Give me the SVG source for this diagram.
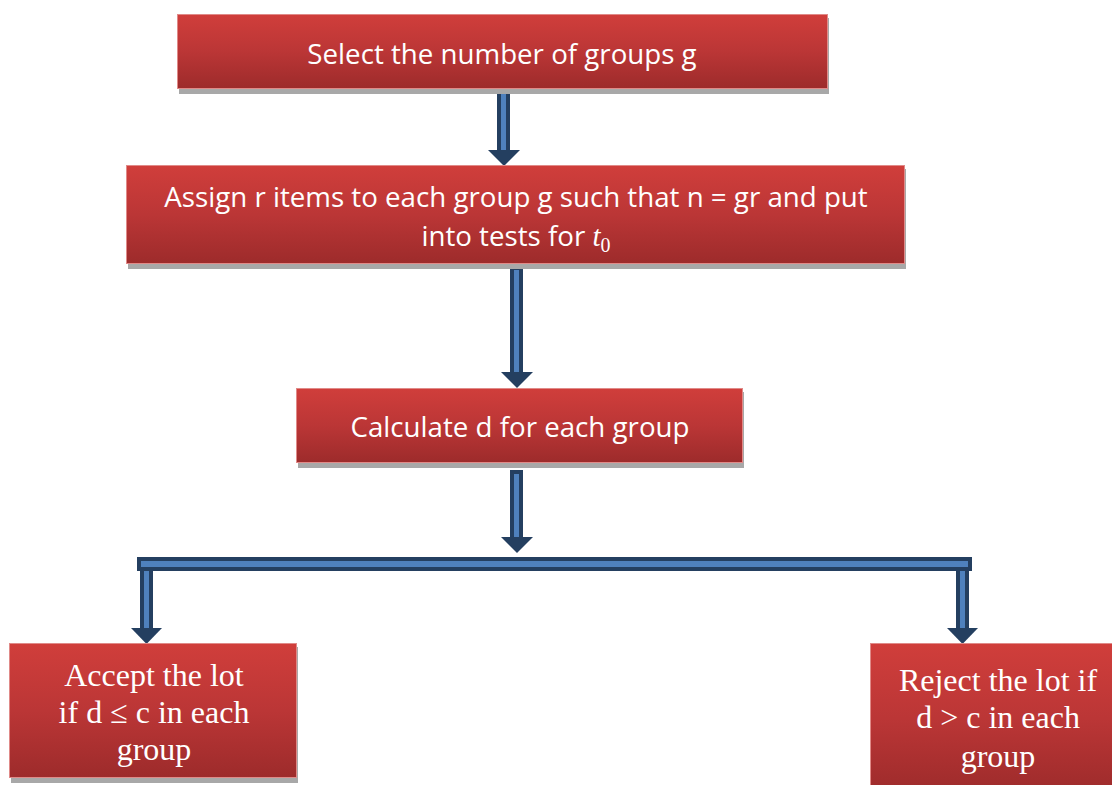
<svg xmlns="http://www.w3.org/2000/svg" width="1112" height="785" viewBox="0 0 1112 785">
<defs>
<linearGradient id="red" x1="0" y1="0" x2="0" y2="1">
<stop offset="0" stop-color="#d03e3b"/>
<stop offset="0.5" stop-color="#bb3636"/>
<stop offset="1" stop-color="#9d2b2b"/>
</linearGradient>
</defs>
<style>
.box{fill:url(#red);stroke:#e08a88;stroke-width:1}
.shadow{fill:#a8a8a8}
.sans{font-family:"Open Sans","Lato",sans-serif;font-size:27.7px;fill:#ffffff;text-anchor:middle}
.serif{font-family:"Liberation Serif","Times New Roman",serif;font-size:32px;fill:#ffffff;text-anchor:middle}
.shaft{fill:#4f81bd;stroke:#243f60;stroke-width:4}
.head{fill:#243f60}
</style>
<g id="connectors">
<rect class="shaft" x="499" y="88" width="9" height="64"/>
<polygon class="head" points="488,150 520,150 504,166"/>
<rect class="shaft" x="512" y="268" width="9" height="106"/>
<polygon class="head" points="501,372 533,372 517,388"/>
<rect class="shaft" x="512" y="472" width="9" height="67"/>
<polygon class="head" points="501,537 533,537 517,553"/>
<rect class="shaft" x="139" y="559" width="831" height="10"/>
<rect class="shaft" x="142" y="569" width="9" height="61"/>
<polygon class="head" points="131,628 162,628 146.5,644"/>
<rect class="shaft" x="958" y="569" width="9" height="61"/>
<polygon class="head" points="947,628 978,628 962.5,644"/>
</g>
<g id="n1">
<rect class="shadow" x="179" y="18" width="650" height="76"/>
<rect class="box" x="177.5" y="14.5" width="650" height="74"/>
<text class="sans" x="502" y="64">Select the number of groups g</text>
</g>
<g id="n2">
<rect class="shadow" x="128" y="169" width="778" height="100"/>
<rect class="box" x="126.5" y="165.5" width="778" height="98"/>
<text class="sans" x="516" y="207">Assign r items to each group g such that n = gr and put</text>
<text class="sans" x="516" y="246">into tests for <tspan font-family="'Liberation Serif',serif" font-style="italic" font-size="29">t</tspan><tspan font-family="'Liberation Serif',serif" font-size="20" dy="6">0</tspan></text>
</g>
<g id="n3">
<rect class="shadow" x="298" y="392" width="446" height="76"/>
<rect class="box" x="296.5" y="388.5" width="446" height="74"/>
<text class="sans" x="520" y="437">Calculate d for each group</text>
</g>
<g id="n4">
<rect class="shadow" x="11" y="647" width="287" height="136"/>
<rect class="box" x="9.5" y="643.5" width="287" height="134"/>
<text class="serif" x="154" y="686">Accept the lot</text>
<text class="serif" x="154" y="723">if d ≤ c in each</text>
<text class="serif" x="154" y="760">group</text>
</g>
<g id="n5">
<rect class="box" x="870.5" y="643.5" width="250" height="150"/>
<text class="serif" x="998" y="691">Reject the lot if</text>
<text class="serif" x="998" y="728">d &gt; c in each</text>
<text class="serif" x="998" y="767">group</text>
</g>
</svg>
